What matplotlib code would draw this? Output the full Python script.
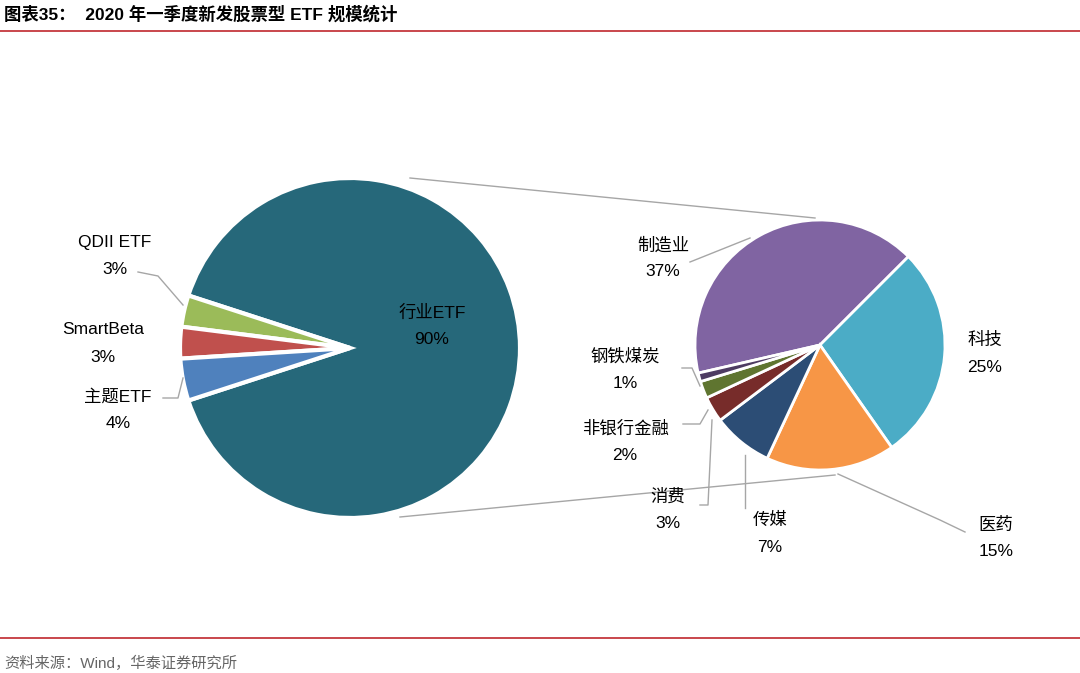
import matplotlib.pyplot as plt
import matplotlib.lines as mlines

plt.rcParams['font.family'] = ['Liberation Sans', 'Noto Sans CJK SC']

H = 673
# left pie: share by ETF type
left_labels = ['行业ETF', 'QDII ETF', 'SmartBeta', '主题ETF']
left_values = [90, 3, 3, 4]
left_colors = ['#26687A', '#9BBB59', '#C0504D', '#4F81BD']

# right pie: breakdown of 行业ETF
right_labels = ['制造业', '科技', '医药', '传媒', '消费', '非银行金融', '钢铁煤炭']
right_values = [37, 25, 15, 7, 3, 2, 1]
right_colors = ['#8064A2', '#4BACC6', '#F79646', '#2C4D75', '#772C2A', '#5F7530', '#4D3B62']

fig = plt.figure(figsize=(10.8, 6.73), dpi=100)
ax = fig.add_axes([0, 0, 1, 1])
ax.set_xlim(0, 1080)
ax.set_ylim(0, H)
ax.set_aspect('equal')
ax.axis('off')

def Y(y):
    return H - y

# title and frame lines
ax.text(4, Y(14), '图表35：  2020 年一季度新发股票型 ETF 规模统计', fontsize=12.5,
        fontweight='bold', va='center', ha='left')
ax.plot([0, 1080], [Y(31), Y(31)], color='#C0282D', lw=1.2)
ax.plot([0, 1080], [Y(638), Y(638)], color='#C0282D', lw=1.2)
ax.text(4, Y(663), '资料来源：Wind，华泰证券研究所', fontsize=11, color='#666666', va='center')

# connector lines
gc = '#A6A6A6'
ax.plot([410, 815], [Y(178), Y(218)], color=gc, lw=1)
ax.plot([400, 835], [Y(517), Y(475)], color=gc, lw=1)

# left pie (small slices around 180 deg)
lv = left_values
start = 180 - 18 - 360 * lv[0] / sum(lv)
ax.pie(lv, colors=left_colors, startangle=162 - 360 * lv[0] / sum(lv), center=(350, Y(348)),
       radius=170, wedgeprops=dict(edgecolor='white', linewidth=3), frame=True)

# right pie
ax.pie(right_values, colors=right_colors, startangle=193, counterclock=False,
       center=(820, Y(345)), radius=125, wedgeprops=dict(edgecolor='white', linewidth=2),
       frame=True)
ax.set_xlim(0, 1080)
ax.set_ylim(0, H)
ax.axis('off')

fs = 12.5
def lab(x, y, name, pct, color='black'):
    ax.text(x, Y(y), name, fontsize=fs, ha='center', va='center', color=color)
    ax.text(x, Y(y + 27), pct, fontsize=fs, ha='center', va='center', color=color)

def leader(pts):
    ax.plot([p[0] for p in pts], [Y(p[1]) for p in pts], color=gc, lw=1)

lab(432, 313, '行业ETF', '90%')
lab(115, 242, 'QDII ETF', '3%')
lab(103, 330, 'SmartBeta', '3%')
lab(118, 397, '主题ETF', '4%')
leader([(138, 272), (158, 276), (183, 305)])
leader([(163, 398), (178, 398), (183, 378)])

lab(663, 245, '制造业', '37%')
lab(985, 340, '科技', '25%')
lab(996, 525, '医药', '15%')
lab(770, 520, '传媒', '7%')
lab(668, 497, '消费', '3%')
lab(625, 428, '非银行金融', '2%')
lab(625, 357, '钢铁煤炭', '1%')
leader([(690, 262), (750, 238)])
leader([(965, 532), (940, 520), (838, 474)])
leader([(745, 508), (745, 455)])
leader([(700, 505), (708, 505), (712, 420)])
leader([(683, 424), (700, 424), (708, 410)])
leader([(682, 368), (692, 368), (700, 386)])

fig.savefig('out.png', dpi=100)
